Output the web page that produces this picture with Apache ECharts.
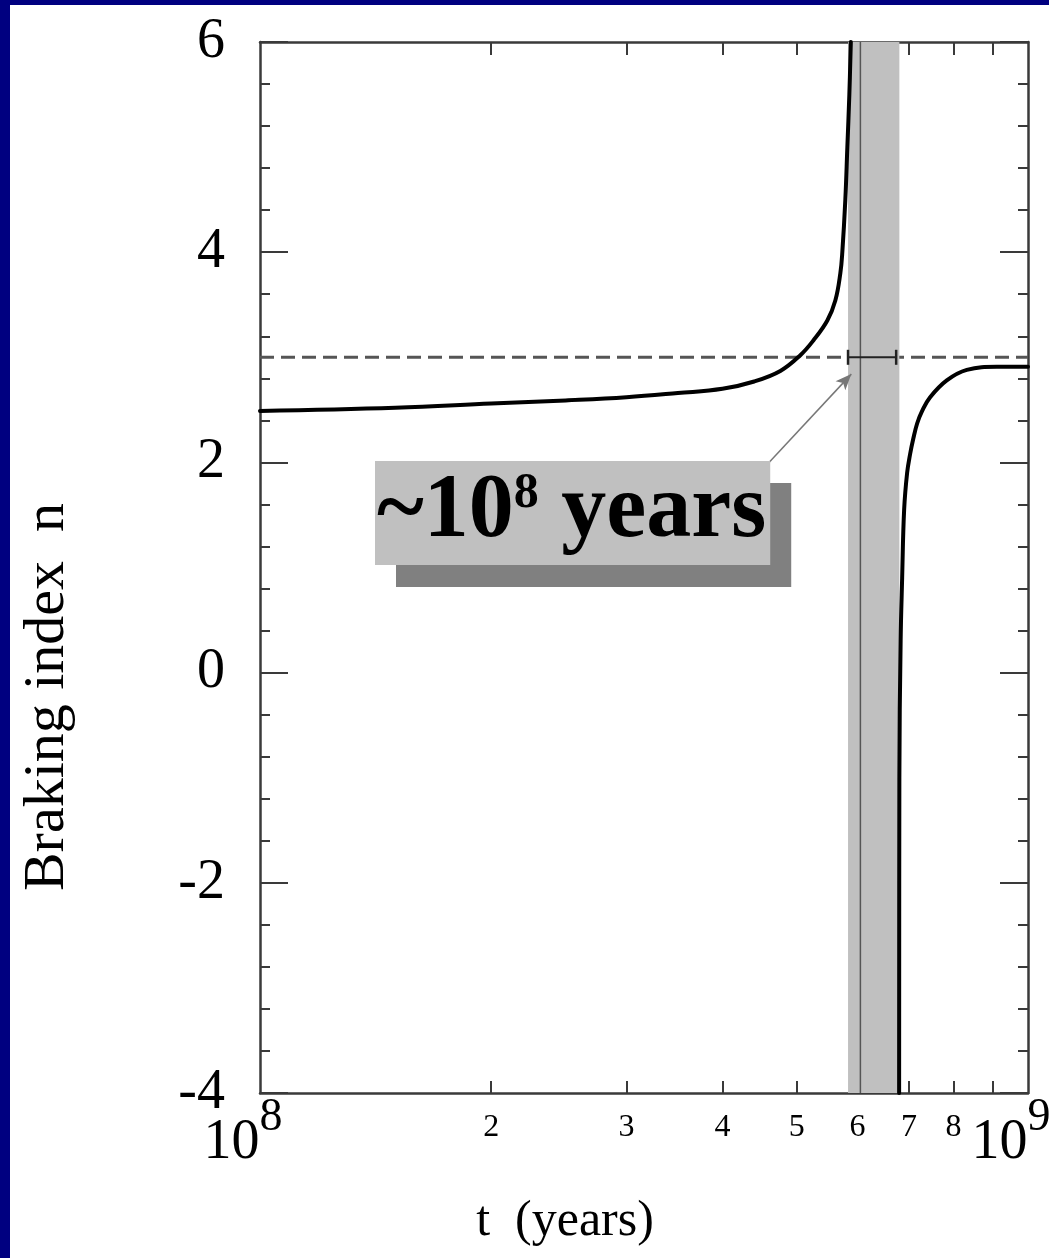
<!DOCTYPE html>
<html><head><meta charset="utf-8">
<script src="https://cdn.jsdelivr.net/npm/echarts@6/dist/echarts.min.js"></script>
<style>html,body{margin:0;padding:0;background:#fff}#c{width:1049px;height:1258px}</style>
</head><body><div id="c"></div>
<script>
// ---- data ----
const leftT = [1.0e8, 1.5e8, 2.0e8, 2.5e8, 3.0e8, 3.5e8, 4.0e8, 4.4e8, 4.759e8, 5.053e8, 5.254e8, 5.479e8, 5.612e8, 5.697e8, 5.731e8, 5.783e8, 5.818e8, 5.853e8, 5.879e8];
const leftN = [2.49, 2.52, 2.56, 2.59, 2.62, 2.66, 2.70, 2.77, 2.87, 3.02, 3.16, 3.35, 3.54, 3.80, 4.00, 4.50, 5.00, 5.50, 6.00];
const rightT = [6.795e8, 6.80e8, 6.826e8, 6.857e8, 6.898e8, 6.960e8, 7.023e8, 7.087e8, 7.172e8, 7.281e8, 7.457e8, 7.838e8, 8.323e8, 9.106e8, 1.0e9];
const rightN = [-4.0, -1.0, 0.3, 0.9, 1.55, 1.90, 2.08, 2.22, 2.37, 2.49, 2.62, 2.78, 2.88, 2.91, 2.91];
const bandRange = [5.83e8, 6.80e8];
const markerT = 6.05e8;
const refN = 3;
const errT = [5.83e8, 6.735e8];
const arrowFrom = [4.6e8, 2.0];
const arrowTo = [5.888e8, 2.84];
const xTickValues = [2e8, 3e8, 4e8, 5e8, 6e8, 7e8, 8e8, 9e8];
const xSmallLabels = [2e8, 3e8, 4e8, 5e8, 6e8, 7e8, 8e8];
const xDecadeLabels = [1e8, 1e9];
const yMin = -4, yMax = 6, yStep = 2;
const xMin = 1e8, xMax = 1e9;

const serif = 'Liberation Serif';
const zip = (a, b) => a.map((v, i) => [v, b[i]]);

const chart = echarts.init(document.getElementById('c'), null, {renderer: 'canvas'});
const axisLine = {show: true, onZero: false, lineStyle: {color: '#3a3a3a', width: 2.5}};
const baseX = {type: 'log', logBase: 10, min: xMin, max: xMax, splitLine: {show: false}, gridIndex: 0};
const baseY = {type: 'value', min: yMin, max: yMax, interval: yStep, splitLine: {show: false}, gridIndex: 0};

chart.setOption({
  animation: false,
  backgroundColor: '#ffffff',
  grid: {left: 260, top: 42, width: 768, height: 1051, containLabel: false, outerBoundsMode: 'none'},
  xAxis: [
    Object.assign({}, baseX, {
      position: 'bottom', axisLine: axisLine,
      axisTick: {show: true, inside: true, length: 12, customValues: xTickValues, lineStyle: {color: '#3a3a3a', width: 2}},
      axisLabel: {show: true, customValues: xSmallLabels, margin: 19, color: '#000', fontFamily: serif, fontSize: 32,
        formatter: v => String(Math.round(v / 1e8))}
    }),
    Object.assign({}, baseX, {
      position: 'bottom', axisLine: {show: false, onZero: false}, axisTick: {show: false},
      axisLabel: {show: true, customValues: xDecadeLabels, margin: 2, color: '#000', padding: [0, 34, 0, 0],
        formatter: v => '{t|10}{p|' + Math.round(Math.log10(v)) + '}',
        rich: {
          t: {fontFamily: serif, fontSize: 56, color: '#000', padding: [20, 0, 0, 0], verticalAlign: 'top'},
          p: {fontFamily: serif, fontSize: 46, color: '#000', verticalAlign: 'top'}
        }}
    }),
    Object.assign({}, baseX, {
      position: 'top', axisLine: axisLine,
      axisTick: {show: true, inside: true, length: 13, customValues: xTickValues, lineStyle: {color: '#3a3a3a', width: 2}},
      axisLabel: {show: false}
    })
  ],
  yAxis: [
    Object.assign({}, baseY, {
      position: 'left', axisLine: axisLine,
      axisTick: {show: true, inside: true, length: 28, lineStyle: {color: '#3a3a3a', width: 2}},
      minorTick: {show: true, splitNumber: 5, length: 10, lineStyle: {color: '#3a3a3a', width: 2}},
      axisLabel: {show: true, margin: 35, color: '#000', fontFamily: serif, fontSize: 56}
    }),
    Object.assign({}, baseY, {
      position: 'right', axisLine: axisLine,
      axisTick: {show: true, inside: true, length: 28, lineStyle: {color: '#3a3a3a', width: 2}},
      minorTick: {show: true, splitNumber: 5, length: 10, lineStyle: {color: '#3a3a3a', width: 2}},
      axisLabel: {show: false}
    })
  ],
  series: [
    {
      name: 'n = 3', type: 'line', xAxisIndex: 0, yAxisIndex: 0, z: 0,
      data: [[xMin, refN], [xMax, refN]], symbol: 'none',
      lineStyle: {color: '#555', width: 3, type: [14, 7]}
    },
    {
      name: 'band', type: 'custom', xAxisIndex: 0, yAxisIndex: 0, z: 1,
      data: [[bandRange[0], bandRange[1], yMin, yMax]],
      encode: {x: [0, 1], y: [2, 3]},
      renderItem: function (params, api) {
        const p0 = api.coord([api.value(0), api.value(3)]);
        const p1 = api.coord([api.value(1), api.value(2)]);
        return {type: 'rect', shape: {x: p0[0], y: p0[1], width: p1[0] - p0[0], height: p1[1] - p0[1]},
          style: {fill: '#c0c0c0'}};
      }
    },
    {
      name: 'marker', type: 'line', xAxisIndex: 0, yAxisIndex: 0, z: 3,
      data: [[markerT, yMin], [markerT, yMax]], symbol: 'none',
      lineStyle: {color: '#555', width: 1.5}
    },
    {
      name: 'error', type: 'line', xAxisIndex: 0, yAxisIndex: 0, z: 4,
      data: errT.map(t => [t, refN]), symbol: 'rect', symbolSize: [2.5, 15], showSymbol: true,
      itemStyle: {color: '#222'}, lineStyle: {color: '#222', width: 2},
      markLine: {
        silent: true, symbol: ['none', 'arrow'], symbolSize: [10, 16], z: 5,
        lineStyle: {color: '#777', width: 1.5, type: 'solid'}, label: {show: false},
        data: [[{coord: arrowFrom}, {coord: arrowTo}]]
      }
    },
    {
      name: 'left', type: 'line', xAxisIndex: 0, yAxisIndex: 0, z: 4, clip: true,
      data: zip(leftT, leftN), symbol: 'none', smooth: 0.4,
      lineStyle: {color: '#000', width: 4, join: 'round', cap: 'round'}
    },
    {
      name: 'right', type: 'line', xAxisIndex: 0, yAxisIndex: 0, z: 4, clip: true,
      data: zip(rightT, rightN), symbol: 'none', smooth: 0.4,
      lineStyle: {color: '#000', width: 4, join: 'round', cap: 'round'}
    }
  ],
  graphic: [
    {type: 'rect', left: 0, top: 0, shape: {width: 1049, height: 5}, style: {fill: '#000080'}, z: 100},
    {type: 'rect', left: 0, top: 0, shape: {width: 10, height: 1258}, style: {fill: '#000080'}, z: 100},
    {type: 'text', x: 48, y: 697, rotation: Math.PI / 2, z: 100,
      style: {text: 'Braking index  n', fill: '#000', font: '58px "Liberation Serif"', textAlign: 'center', textVerticalAlign: 'middle'}},
    {type: 'text', x: 565, y: 1222, z: 100,
      style: {text: 't  (years)', fill: '#000', font: '50px "Liberation Serif"', textAlign: 'center', textVerticalAlign: 'middle'}},
    {type: 'text', x: 375, y: 461, z: 100,
      style: {
        text: '{a|~10}{s|8}{a| years}',
        textAlign: 'left', textVerticalAlign: 'top',
        backgroundColor: '#c0c0c0', padding: [6, 4, 6, 2],
        shadowColor: '#808080', shadowOffsetX: 21, shadowOffsetY: 22, shadowBlur: 0,
        rich: {
          a: {fontFamily: serif, fontWeight: 'bold', fontSize: 90, fill: '#000', lineHeight: 92},
          s: {fontFamily: serif, fontWeight: 'bold', fontSize: 50, fill: '#000', verticalAlign: 'top', padding: [2, 0, 0, 0]}
        }
      }}
  ]
});
</script></body></html>
